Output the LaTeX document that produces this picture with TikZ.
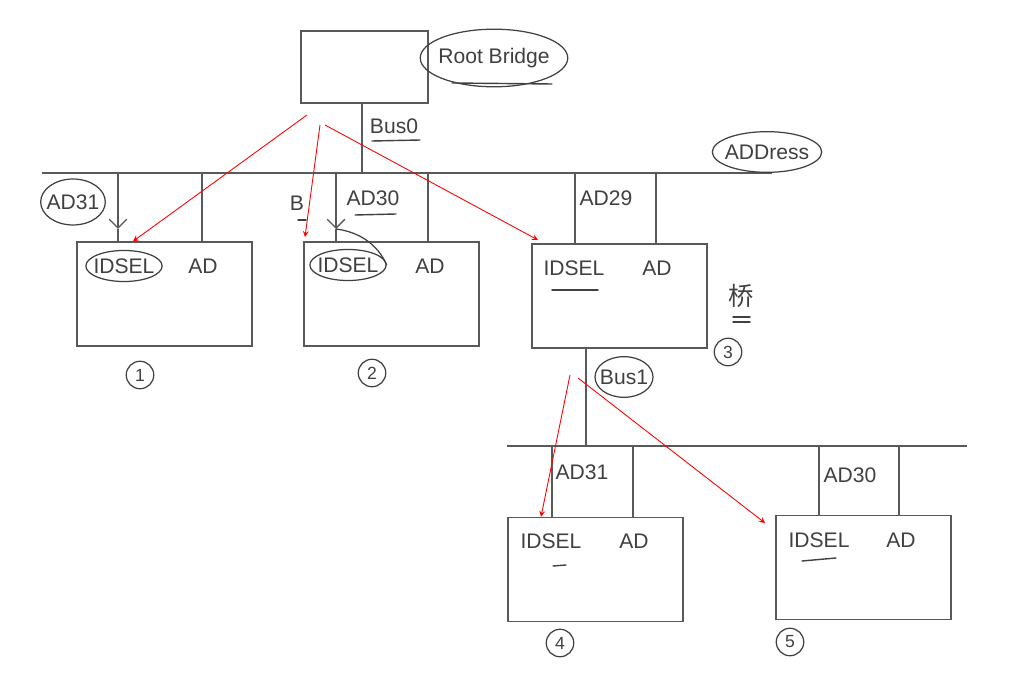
\documentclass[tikz,border=0pt]{standalone}
\usepackage{fontspec}
\setmainfont{Liberation Sans}
\newfontfamily\cjk{Noto Sans CJK SC}
\usetikzlibrary{shapes, arrows, arrows.meta, calc, positioning}

\tikzset{
    devbox/.style={draw=black!65, line width=0.8pt, minimum width=3.5cm, minimum height=2.08cm},
    wire/.style={draw=black!65, line width=0.8pt},
    vtip/.style={-{Straight Barb[length=5pt, width=10pt]}},
    lbl/.style={text=black!75, font=\large, inner sep=1pt},
    ring/.style={draw=black!75, ellipse, line width=0.7pt, font=\large, text=black!75, inner xsep=-2pt, inner ysep=2pt},
    numring/.style={draw=black!75, circle, line width=0.7pt, minimum size=0.55cm, inner sep=0pt, text=black!75},
    hint/.style={draw=red, line width=0.5pt, -stealth},
    uline/.style={draw=black!75, line width=0.8pt, line cap=round},
}

\begin{document}
\begin{tikzpicture}[x=0.02cm, y=-0.02cm]
    \useasboundingbox (0,0) rectangle (1024,678);

    % root bridge and bus 0
    \node [devbox, minimum width=2.54cm, minimum height=1.44cm] (root) at (364.5,67) {};
    \node [ring, inner ysep=6pt] (rootlbl) at (494,58) {Root Bridge};
    \draw [uline] (452,83) -- (552,84);
    \coordinate (bus0l) at (42,173);
    \coordinate (bus0r) at (772,173);
    \draw [wire] (bus0l) -- (bus0r);
    \draw [wire] (root.south -| 362,0) -- (bus0l -| 362,0);
    \node [lbl] (bus0lbl) at (394,126) {Bus0};
    \draw [uline] (372,141) -- (420,140);
    \node [ring, inner ysep=4pt] (addr) at (767,152) {ADDress};

    % devices on bus 0
    \node [devbox] (B1) at (164.5,294) {};
    \node [devbox] (B2) at (391.5,294) {};
    \node [devbox] (B3) at (619.5,296) {};

    \draw [wire, vtip] (bus0l -| 118,0) -- (118,229);
    \draw [wire] (118,229) -- (B1.north -| 118,0);
    \draw [wire] (bus0l -| 202,0) -- (B1.north -| 202,0);
    \draw [wire, vtip] (bus0l -| 336,0) -- (336,229);
    \draw [wire] (336,229) -- (B2.north -| 336,0);
    \draw [wire] (bus0l -| 428,0) -- (B2.north -| 428,0);
    \draw [wire] (bus0l -| 575,0) -- (B3.north -| 575,0);
    \draw [wire] (bus0l -| 656,0) -- (B3.north -| 656,0);

    \node [ring, inner ysep=5pt] (ad31a) at (73,202) {AD31};
    \node [ring] (sel1) at (124,266) {IDSEL};
    \node [lbl] (ad1) at (203,266) {AD};
    \node [numring] (n1) at (140,375) {1};

    \node [lbl] (blbl) at (297,203) {B};
    \draw [uline] (298,220) -- (306,220);
    \node [lbl] (ad30a) at (373,198) {AD30};
    \draw [uline] (355,215) -- (396,214);
    \node [ring] (sel2) at (348,265) {IDSEL};
    \draw [black!75, line width=0.7pt] (336,229) .. controls (360,232) and (378,245) .. (sel2.east);
    \node [lbl] (ad2) at (430,266) {AD};
    \node [numring] (n2) at (372,373) {2};

    \node [lbl] (ad29) at (606,198) {AD29};
    \node [lbl] (sel3) at (574,268) {IDSEL};
    \draw [uline] (552,290) -- (598,290);
    \node [lbl] (ad3) at (657,268) {AD};
    \node [lbl, font=\cjk\Large] (qiao) at (741,296) {桥};
    \draw [uline] (733,317) -- (750,317);
    \draw [uline] (733,322) -- (750,322);
    \node [numring] (n3) at (728,352) {3};

    % bus 1 behind bridge 3
    \coordinate (bus1l) at (507,446);
    \coordinate (bus1r) at (967,446);
    \draw [wire] (bus1l) -- (bus1r);
    \draw [wire] (B3.south -| 586,0) -- (bus1l -| 586,0);
    \node [ring, inner ysep=4pt] (bus1lbl) at (624,377) {Bus1};

    \node [devbox] (B4) at (595.5,569.5) {};
    \node [devbox] (B5) at (863.5,567.5) {};
    \draw [wire] (bus1l -| 552,0) -- (B4.north -| 552,0);
    \draw [wire] (bus1l -| 633,0) -- (B4.north -| 633,0);
    \draw [wire] (bus1l -| 819,0) -- (B5.north -| 819,0);
    \draw [wire] (bus1l -| 899,0) -- (B5.north -| 899,0);

    \node [lbl] (ad31b) at (582,472) {AD31};
    \node [lbl] (sel4) at (551,541) {IDSEL};
    \draw [uline] (553,566) -- (566,565);
    \node [lbl] (ad4) at (634,541) {AD};
    \node [numring] (n4) at (560,643) {4};

    \node [lbl] (ad30b) at (850,475) {AD30};
    \node [lbl] (sel5) at (819,540) {IDSEL};
    \draw [uline] (802,561) -- (836,558);
    \node [lbl] (ad5) at (901,540) {AD};
    \node [numring] (n5) at (790,642) {5};

    % red hints
    \coordinate (r1) at (307,115);
    \coordinate (r2) at (320,125);
    \coordinate (r3) at (325,125);
    \coordinate (r4) at (570,375);
    \coordinate (r5) at (578,378);
    \draw [hint] (r1) -- (B1.north -| 133,0);
    \draw [hint] (r2) -- (305,237);
    \draw [hint] (r3) -- (538,240);
    \draw [hint] (r4) -- (B4.north -| 541,0);
    \draw [hint] (r5) -- (765,523);
\end{tikzpicture}
\end{document}
